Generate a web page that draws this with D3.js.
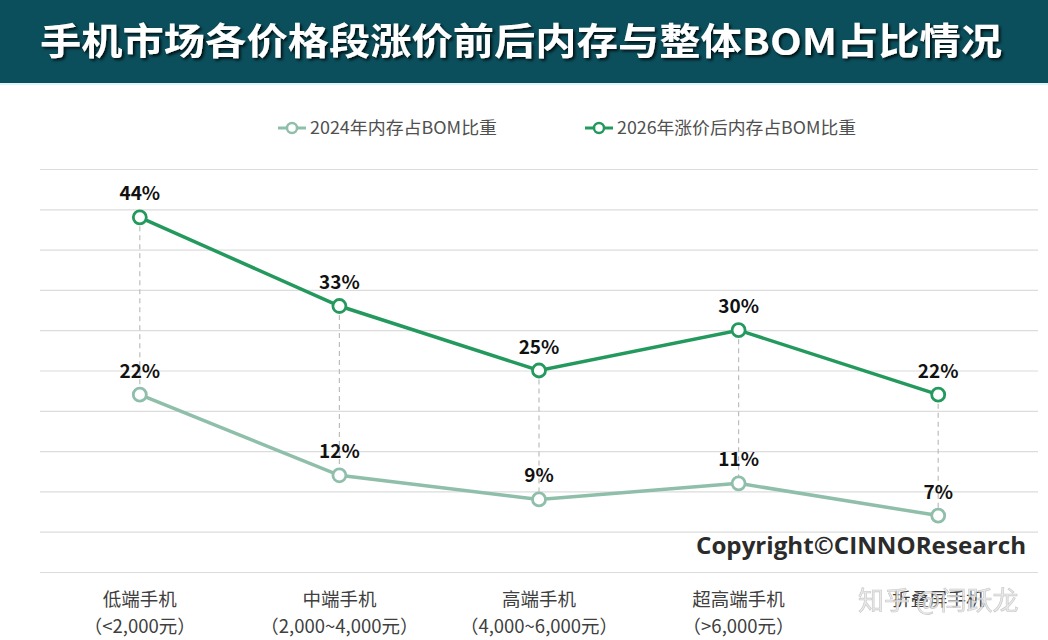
<!DOCTYPE html>
<html>
<head>
<meta charset="utf-8">
<script src="https://cdn.jsdelivr.net/npm/d3@7"></script>
<style>
  body { margin: 0; background: #fff; }
  svg { display: block; font-family: "Noto Sans CJK SC", "Noto Sans", sans-serif; }
</style>
</head>
<body>
<div id="graph"></div>
<script>
// chart data
const categories = ["低端手机", "中端手机", "高端手机", "超高端手机", "折叠屏手机"];
const priceRanges = ["（<2,000元）", "（2,000~4,000元）", "（4,000~6,000元）", "（>6,000元）", ""];
const share2024 = [22, 12, 9, 11, 7];
const share2026 = [44, 33, 25, 30, 22];
const seriesNames = ["2024年内存占BOM比重", "2026年涨价后内存占BOM比重"];
const yTicks = [0, 5, 10, 15, 20, 25, 30, 35, 40, 45, 50];

const W = 1048, H = 640;
const margin = { top: 169, right: 10, bottom: 68, left: 40 };
const colors = ["#8fbfaa", "#24995d"];

let svg = d3.select("#graph")
    .append("svg")
    .attr("width", W)
    .attr("height", H);

// title bar
svg.append("rect")
    .attr("width", W)
    .attr("height", 83)
    .attr("fill", "#0b4f5c");
svg.append("rect")
    .attr("y", 83)
    .attr("width", W)
    .attr("height", 2)
    .attr("fill", "#dff4f6");

let defs = svg.append("defs");
let f = defs.append("filter").attr("id", "shadow").attr("x", "-5%").attr("y", "-30%").attr("width", "110%").attr("height", "160%");
f.append("feDropShadow").attr("dx", 2).attr("dy", 2).attr("stdDeviation", 1.5).attr("flood-color", "#000").attr("flood-opacity", 0.8);

svg.append("text")
    .attr("x", 521)
    .attr("y", 55)
    .attr("text-anchor", "middle")
    .attr("fill", "#fff")
    .attr("font-size", "37px")
    .attr("font-weight", "bold")
    .attr("filter", "url(#shadow)")
    .attr("textLength", 962)
    .attr("lengthAdjust", "spacingAndGlyphs")
    .text("手机市场各价格段涨价前后内存与整体BOM占比情况");

// scales
let x = d3.scaleBand()
    .domain(categories)
    .range([margin.left, W - margin.right]);

let y = d3.scaleLinear()
    .domain([0, 50])
    .range([H - margin.bottom, margin.top]);

const cx = (d) => x(d) + x.bandwidth() / 2;

// gridlines
svg.append("g")
    .attr("transform", "translate(" + margin.left + ",0)")
    .call(d3.axisLeft(y).tickValues(yTicks).tickSize(-(W - margin.right - margin.left)).tickFormat(""))
    .call(g => g.select(".domain").remove())
    .selectAll("line")
    .attr("stroke", "#dcdcdc")
    .attr("stroke-width", 1.2);

// category labels
let xg = svg.append("g")
    .attr("transform", "translate(0," + (H - margin.bottom) + ")")
    .call(d3.axisBottom(x).tickSize(0).tickFormat(""));
xg.select(".domain").remove();

categories.forEach((c, i) => {
    svg.append("text")
        .attr("x", cx(c))
        .attr("y", 606)
        .attr("text-anchor", "middle")
        .attr("fill", "#404040")
        .attr("font-size", "18.5px")
        .text(c);
    if (priceRanges[i]) {
        svg.append("text")
            .attr("x", cx(c))
            .attr("y", 633)
            .attr("text-anchor", "middle")
            .attr("fill", "#404040")
            .attr("font-size", "18.5px")
            .text(priceRanges[i]);
    }
});

// high-low dashed lines
categories.forEach((c, i) => {
    svg.append("line")
        .attr("x1", cx(c)).attr("x2", cx(c))
        .attr("y1", y(share2026[i]))
        .attr("y2", y(share2024[i]))
        .attr("stroke", "#bdbdbd")
        .attr("stroke-width", 1.2)
        .attr("stroke-dasharray", "5,4");
});

// series
[share2024, share2026].forEach((vals, s) => {
    svg.append("path")
        .datum(vals)
        .attr("d", d3.line()
            .x((d, i) => cx(categories[i]))
            .y((d) => y(d)))
        .attr("fill", "none")
        .attr("stroke", colors[s])
        .attr("stroke-width", 3.5);

    svg.selectAll(".pt" + s)
        .data(vals)
        .enter()
        .append("circle")
        .attr("cx", (d, i) => cx(categories[i]))
        .attr("cy", (d) => y(d))
        .attr("r", 6.5)
        .attr("fill", "#fff")
        .attr("stroke", colors[s])
        .attr("stroke-width", 2.8);

    svg.selectAll(".lb" + s)
        .data(vals)
        .enter()
        .append("text")
        .attr("x", (d, i) => cx(categories[i]))
        .attr("y", (d) => y(d) - 17)
        .attr("text-anchor", "middle")
        .attr("fill", "#111")
        .attr("font-size", "19px")
        .attr("font-weight", "bold")
        .text((d) => d + "%");
});

// legend
const legendX = [278, 585];
const legendLen = [187, 239];
seriesNames.forEach((n, s) => {
    let g = svg.append("g").attr("transform", "translate(" + legendX[s] + ",128)");
    g.append("line").attr("x1", 0).attr("x2", 28).attr("stroke", colors[s]).attr("stroke-width", 3);
    g.append("circle").attr("cx", 14).attr("r", 5).attr("fill", "#fff").attr("stroke", colors[s]).attr("stroke-width", 2.5);
    g.append("text")
        .attr("x", 32)
        .attr("y", 6)
        .attr("fill", "#505050")
        .attr("font-size", "17px")
        .attr("textLength", legendLen[s])
        .attr("lengthAdjust", "spacingAndGlyphs")
        .text(n);
});

// copyright
svg.append("text")
    .attr("x", 1026)
    .attr("y", 554)
    .attr("text-anchor", "end")
    .attr("fill", "#2b2b2b")
    .attr("font-size", "24px")
    .attr("font-weight", "bold")
    .attr("font-family", "Open Sans, sans-serif")
    .attr("textLength", 330)
    .attr("lengthAdjust", "spacingAndGlyphs")
    .text("Copyright©CINNOResearch");

// watermark (overlaps the last category label, as in the source image)
svg.append("text")
    .attr("x", 858)
    .attr("y", 610)
    .attr("fill", "#e6e6e6")
    .attr("stroke", "#bdbdbd")
    .attr("stroke-width", 0.6)
    .attr("font-size", "26px")
    .attr("opacity", 0.85)
    .text("知乎 @闫跃龙");
</script>
</body>
</html>
